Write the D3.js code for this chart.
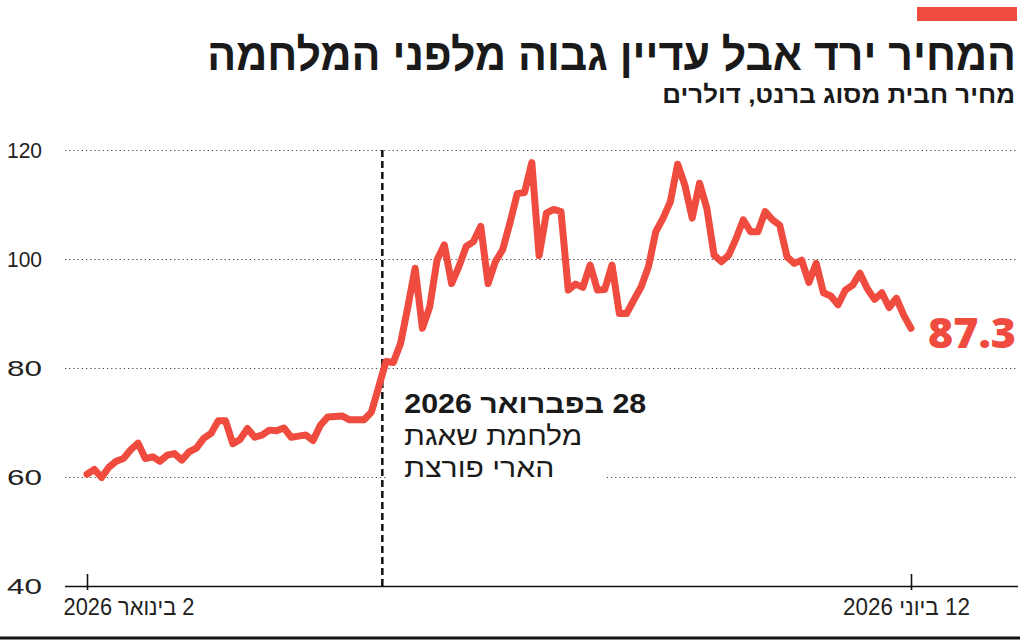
<!DOCTYPE html>
<html>
<head>
<meta charset="utf-8">
<script src="https://cdn.jsdelivr.net/npm/d3@7"></script>
<style>
  body { margin: 0; background: #fff; }
  svg { display: block; }
  text { font-family: "Liberation Sans", "DejaVu Sans", sans-serif; fill: #222; }
</style>
</head>
<body>
<div id="content"></div>
<script>
// brent price, daily closes, 2 Jan -> 12 Jun 2026
const prices = [
    60.5, 61.4, 59.9, 61.8, 62.9, 63.4, 65.0, 66.2, 63.4, 63.7,
    62.9, 64.0, 64.3, 63.1, 64.6, 65.3, 67.1, 68.0, 70.3, 70.3,
    66.1, 66.9, 68.9, 67.3, 67.7, 68.6, 68.5, 69.0, 67.3, 67.5,
    67.7, 66.7, 69.5, 71.0, 71.1, 71.2, 70.5, 70.5, 70.5, 71.9,
    76.5, 81.2, 81.0, 84.5, 91.2, 98.3, 87.3, 91.2, 99.8, 102.6,
    95.5, 98.6, 102.3, 103.2, 106.0, 95.5, 99.5, 101.7, 106.6, 112.0,
    112.2, 117.7, 100.6, 108.4, 109.1, 108.7, 94.3, 95.4, 94.8, 98.9,
    94.3, 94.4, 98.9, 90.0, 90.0, 92.5, 94.9, 98.6, 105.0, 107.5,
    110.5, 117.4, 113.5, 107.5, 113.9, 109.3, 100.7, 99.5, 100.7, 103.7,
    107.2, 105.0, 105.0, 108.7, 107.2, 106.2, 100.4, 99.2, 99.8, 95.7,
    99.2, 93.8, 93.2, 91.6, 94.3, 95.2, 97.4, 94.6, 92.6, 93.8,
    91.1, 92.8, 89.7, 87.3
];

const yTicks = [40, 60, 80, 100, 120];
const xTickIdx = [0, prices.length - 1];
const xTickLabels = ["2 בינואר 2026", "12 ביוני 2026"];

// war starts on saturday 28 feb, between two trading days
const eventIdx = 40.5;
const eventLines = ["28 בפברואר 2026", "מלחמת שאגת", "הארי פורצת"];

const title = "המחיר ירד אבל עדיין גבוה מלפני המלחמה";
const subtitle = "מחיר חבית מסוג ברנט, דולרים";

const red = "#ef4b3e";
const width = 1024, height = 643;
const plotLeft = 65, plotRight = 1018;

const svg = d3.select("#content").append("svg")
    .attr("width", width)
    .attr("height", height);

const x = d3.scaleLinear().domain([0, prices.length - 1]).range([87, 911]);
const y = d3.scaleLinear().domain([40, 120]).range([586, 150]);

// squeeze a text horizontally to a wanted width (the original uses a condensed face)
function squeeze(sel, w) {
    sel.each(function () {
        const len = this.getComputedTextLength();
        const t = d3.select(this);
        t.attr("transform", (t.attr("transform") || "") + " scale(" + (w / len) + ",1)");
    });
}

// header
svg.append("rect")
    .attr("x", 917).attr("y", 7)
    .attr("width", 100).attr("height", 14)
    .attr("fill", red);

svg.append("text")
    .attr("transform", "translate(1016,70)")
    .attr("direction", "rtl")
    .attr("text-anchor", "start")
    .style("font-size", "45px")
    .style("font-weight", "bold")
    .style("fill", "#1a1a1a")
    .text(title)
    .call(squeeze, 809);

svg.append("text")
    .attr("transform", "translate(1015,103)")
    .attr("direction", "rtl")
    .attr("text-anchor", "start")
    .style("font-size", "24px")
    .style("font-weight", "bold")
    .style("fill", "#1a1a1a")
    .text(subtitle)
    .call(squeeze, 353);

// y axis + grid
const yAxis = svg.append("g")
    .attr("transform", "translate(" + plotLeft + ",0)")
    .call(d3.axisLeft(y)
        .tickValues(yTicks)
        .tickSize(-(plotRight - plotLeft))
        .tickPadding(23));
yAxis.select(".domain").remove();
yAxis.selectAll(".tick line")
    .attr("stroke", "#444")
    .attr("stroke-width", 1.2)
    .attr("stroke-dasharray", d => d === 40 ? null : "1.2,3");
yAxis.selectAll(".tick line").filter(d => d === 40)
    .attr("stroke", "#111")
    .attr("stroke-width", 1.6);
yAxis.selectAll(".tick text")
    .style("font-size", "22px")
    .style("fill", "#222")
    .attr("x", null)
    .attr("transform", "translate(-23,0)")
    .call(squeeze, 35);

// x axis, only first and last day
const xAxis = svg.append("g")
    .attr("transform", "translate(0," + y(40) + ")")
    .call(d3.axisBottom(x)
        .tickValues(xTickIdx)
        .tickSizeInner(-12)
        .tickSizeOuter(0)
        .tickFormat((d, i) => xTickLabels[i]));
xAxis.select(".domain").remove();
xAxis.selectAll(".tick line")
    .attr("y1", 4)
    .attr("stroke", "#111")
    .attr("stroke-width", 1.6);
xAxis.selectAll(".tick text")
    .attr("direction", "rtl")
    .attr("y", null).attr("dy", null)
    .style("font-size", "23px")
    .style("fill", "#222")
    .attr("text-anchor", (d, i) => i === 0 ? "end" : "middle")
    .attr("transform", (d, i) => i === 0 ? "translate(-24,29)" : "translate(-5,29)")
    .each(function (d, i) {
        d3.select(this).call(squeeze, i === 0 ? 131 : 127);
    });

// event marker
svg.append("line")
    .attr("x1", x(eventIdx)).attr("x2", x(eventIdx))
    .attr("y1", y(120)).attr("y2", y(40))
    .attr("stroke", "#111")
    .attr("stroke-width", 2.5)
    .attr("stroke-dasharray", "7,4");

const note = svg.append("g");
const noteX = x(eventIdx) + 22;
const noteW = [242, 178, 150];
note.append("rect")
    .attr("x", x(eventIdx) + 5)
    .attr("y", 452)
    .attr("width", 217)
    .attr("height", 40)
    .attr("fill", "#fff");
note.selectAll("text")
    .data(eventLines)
    .join("text")
    .attr("transform", (d, i) => "translate(" + noteX + "," + (413 + i * 32) + ")")
    .attr("direction", "rtl")
    .attr("text-anchor", "end")
    .style("font-size", "27px")
    .style("font-weight", (d, i) => i === 0 ? "bold" : "normal")
    .style("fill", "#1a1a1a")
    .text(d => d)
    .each(function (d, i) {
        d3.select(this).call(squeeze, noteW[i]);
    });

// price line
const line = d3.line()
    .x((d, i) => x(i))
    .y(d => y(d));

svg.append("path")
    .datum(prices)
    .attr("d", line)
    .attr("fill", "none")
    .attr("stroke", red)
    .attr("stroke-width", 7)
    .attr("stroke-linejoin", "round")
    .attr("stroke-linecap", "round");

// last value
const last = prices[prices.length - 1];
svg.append("text")
    .attr("x", x(prices.length - 1) + 17)
    .attr("y", y(last) + 20)
    .style("font-family", "'Open Sans', 'Liberation Sans', sans-serif")
    .style("font-size", "43px")
    .style("font-weight", "800")
    .style("fill", red)
    .text(last.toFixed(1));

// bottom rule
svg.append("line")
    .attr("x1", 0).attr("x2", 1020)
    .attr("y1", 638).attr("y2", 638)
    .attr("stroke", "#111")
    .attr("stroke-width", 3);
</script>
</body>
</html>
